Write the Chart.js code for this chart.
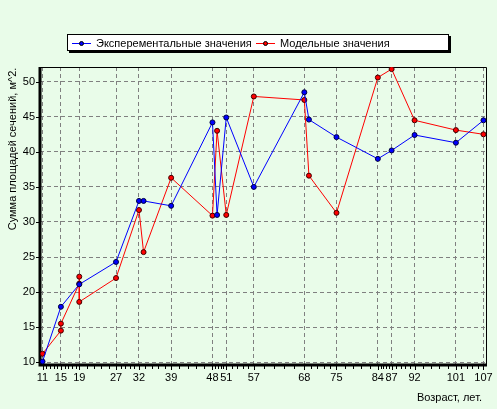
<!DOCTYPE html>
<html>
<head>
<meta charset="utf-8">
<script src="https://cdn.jsdelivr.net/npm/chart.js@4/dist/chart.umd.min.js"></script>
<style>
  html, body { margin: 0; padding: 0; background: #e9fce9; }
  #c { display: block; }
</style>
</head>
<body>
<canvas id="c" width="497" height="409"></canvas>
<script>
// данные
const expAge = [11, 15, 19, 27, 32, 33, 39, 48, 49, 51, 57, 68, 69, 75, 84, 87, 92, 101, 107];
const expVal = [10.1, 17.9, 21.1, 24.3, 33.0, 33.0, 32.3, 44.2, 31.0, 44.9, 35.0, 48.5, 44.6, 42.1, 39.0, 40.2, 42.4, 41.3, 44.5];
const modAge = [11, 15, 15, 19, 19, 19, 27, 32, 33, 39, 48, 49, 51, 57, 68, 69, 75, 84, 87, 92, 101, 107];
const modVal = [11.2, 14.5, 15.5, 21.2, 22.2, 18.6, 22.0, 31.7, 25.7, 36.3, 30.9, 43.0, 31.0, 47.9, 47.4, 36.6, 31.3, 50.6, 51.8, 44.5, 43.1, 42.5];
const xTicks = [11, 15, 19, 27, 32, 39, 48, 51, 57, 68, 75, 84, 87, 92, 101, 107];
const yTicks = [10, 15, 20, 25, 30, 35, 40, 45, 50];

const seriesNames = ['Эксперементальные значения', 'Модельные значения'];
const BG = '#e9fce9';
const FAMILY = '"Liberation Sans", Arial, sans-serif';
const FONT = '11px ' + FAMILY;

const toPoints = (xs, ys) => xs.map((x, i) => ({ x, y: ys[i] }));

// фон, рамка, мелкие риски, легенда и подписи осей
const decor = {
    id: 'decor',
    beforeDraw(chart) {
        const ctx = chart.ctx;
        ctx.save();
        ctx.fillStyle = BG;
        ctx.fillRect(0, 0, chart.width, chart.height);
        ctx.restore();
    },
    beforeDatasetsDraw(chart) {
        const { ctx, chartArea: a, scales } = chart;
        ctx.save();
        ctx.strokeStyle = '#000';
        ctx.lineWidth = 1;
        ctx.beginPath();
        ctx.moveTo(a.left, a.top + 0.5);
        ctx.lineTo(a.right + 0.5, a.top + 0.5);
        ctx.lineTo(a.right + 0.5, a.bottom);
        ctx.stroke();

        // мелкие риски по оси X: каждый интервал делится на 5
        const x = scales.x;
        ctx.beginPath();
        for (let i = 0; i < xTicks.length; i++) {
            const px = Math.round(x.getPixelForValue(xTicks[i])) + 0.5;
            ctx.moveTo(px, a.bottom);
            ctx.lineTo(px, a.bottom + 5);
            if (i < xTicks.length - 1) {
                const step = (xTicks[i + 1] - xTicks[i]) / 5;
                for (let k = 1; k < 5; k++) {
                    const mx = Math.round(x.getPixelForValue(xTicks[i] + k * step)) + 0.5;
                    ctx.moveTo(mx, a.bottom);
                    ctx.lineTo(mx, a.bottom + 4);
                }
            }
        }
        const y = scales.y;
        yTicks.forEach(v => {
            const py = Math.round(y.getPixelForValue(v)) + 0.5;
            ctx.moveTo(a.left - 4, py);
            ctx.lineTo(a.left, py);
        });
        ctx.stroke();

        ctx.lineWidth = 3;
        ctx.beginPath();
        ctx.moveTo(a.left, a.top);
        ctx.lineTo(a.left, a.bottom + 1.5);
        ctx.moveTo(a.left - 1.5, a.bottom);
        ctx.lineTo(a.right + 1, a.bottom);
        ctx.stroke();
        ctx.restore();
    },
    afterDraw(chart) {
        const ctx = chart.ctx;
        ctx.save();
        // легенда
        const bx = 67, by = 34, bw = 382, bh = 17;
        ctx.fillStyle = '#000';
        ctx.fillRect(bx + 2, by + 2, bw, bh);
        ctx.fillStyle = '#fff';
        ctx.fillRect(bx, by, bw, bh);
        ctx.strokeStyle = '#000';
        ctx.lineWidth = 1;
        ctx.strokeRect(bx + 0.5, by + 0.5, bw - 1, bh - 1);

        ctx.font = FONT;
        ctx.textBaseline = 'middle';
        ctx.textAlign = 'left';
        const items = [
            { x: 72, color: '#0000ff', label: seriesNames[0] },
            { x: 256, color: '#ff0000', label: seriesNames[1] }
        ];
        const cy = by + 9.5;
        items.forEach(it => {
            ctx.strokeStyle = it.color;
            ctx.lineWidth = 1;
            ctx.beginPath();
            ctx.moveTo(it.x, cy);
            ctx.lineTo(it.x + 19, cy);
            ctx.stroke();
            ctx.fillStyle = it.color;
            ctx.strokeStyle = '#000';
            ctx.beginPath();
            ctx.arc(it.x + 9.5, cy, 2, 0, Math.PI * 2);
            ctx.fill();
            ctx.stroke();
            ctx.fillStyle = '#000';
            ctx.fillText(it.label, it.x + 24, cy);
        });

        // подпись оси Y
        ctx.translate(13, 149);
        ctx.rotate(-Math.PI / 2);
        ctx.textAlign = 'center';
        ctx.fillText('Сумма площадей сечений, м^2.', 0, 0);
        ctx.setTransform(1, 0, 0, 1, 0, 0);

        // подпись оси X
        ctx.textAlign = 'right';
        ctx.fillText('Возраст, лет.', 482, 398);
        ctx.restore();
    }
};

new Chart(document.getElementById('c'), {
    type: 'line',
    data: {
        datasets: [
            {
                label: seriesNames[0],
                data: toPoints(expAge, expVal),
                borderColor: '#0000ff',
                backgroundColor: '#0000ff',
                pointBackgroundColor: '#0000ff',
                pointBorderColor: '#000040',
                borderWidth: 1,
                pointRadius: 2.5,
                pointBorderWidth: 1,
                tension: 0
            },
            {
                label: seriesNames[1],
                data: toPoints(modAge, modVal),
                borderColor: '#ff0000',
                backgroundColor: '#ff0000',
                pointBackgroundColor: '#ff0000',
                pointBorderColor: '#400000',
                borderWidth: 1,
                pointRadius: 2.5,
                pointBorderWidth: 1,
                tension: 0
            }
        ]
    },
    options: {
        responsive: false,
        animation: false,
        devicePixelRatio: 1,
        layout: { padding: { left: 0, top: 67, right: 11, bottom: 0 } },
        plugins: {
            legend: { display: false },
            tooltip: { enabled: false }
        },
        scales: {
            x: {
                type: 'linear',
                min: 10.45,
                max: 107.55,
                afterBuildTicks: axis => { axis.ticks = xTicks.map(v => ({ value: v })); },
                afterFit: scale => {
                    scale.height = 44;
                    scale.paddingLeft = 0;
                    scale.paddingRight = 0;
                },
                grid: { color: '#808080', lineWidth: 1, drawTicks: false },
                border: { display: false, dash: [4, 3] },
                ticks: {
                    autoSkip: false,
                    maxRotation: 0,
                    minRotation: 0,
                    padding: 6,
                    color: '#000',
                    font: { family: FAMILY, size: 11 }
                }
            },
            y: {
                min: 9.6,
                max: 52.1,
                afterBuildTicks: axis => { axis.ticks = yTicks.map(v => ({ value: v })); },
                afterFit: scale => {
                    scale.width = 40;
                    scale.paddingTop = 0;
                    scale.paddingBottom = 0;
                },
                grid: { color: '#808080', lineWidth: 1, drawTicks: false },
                border: { display: false, dash: [4, 3] },
                ticks: {
                    padding: 5,
                    color: '#000',
                    font: { family: FAMILY, size: 11 }
                }
            }
        }
    },
    plugins: [decor]
});
</script>
</body>
</html>
